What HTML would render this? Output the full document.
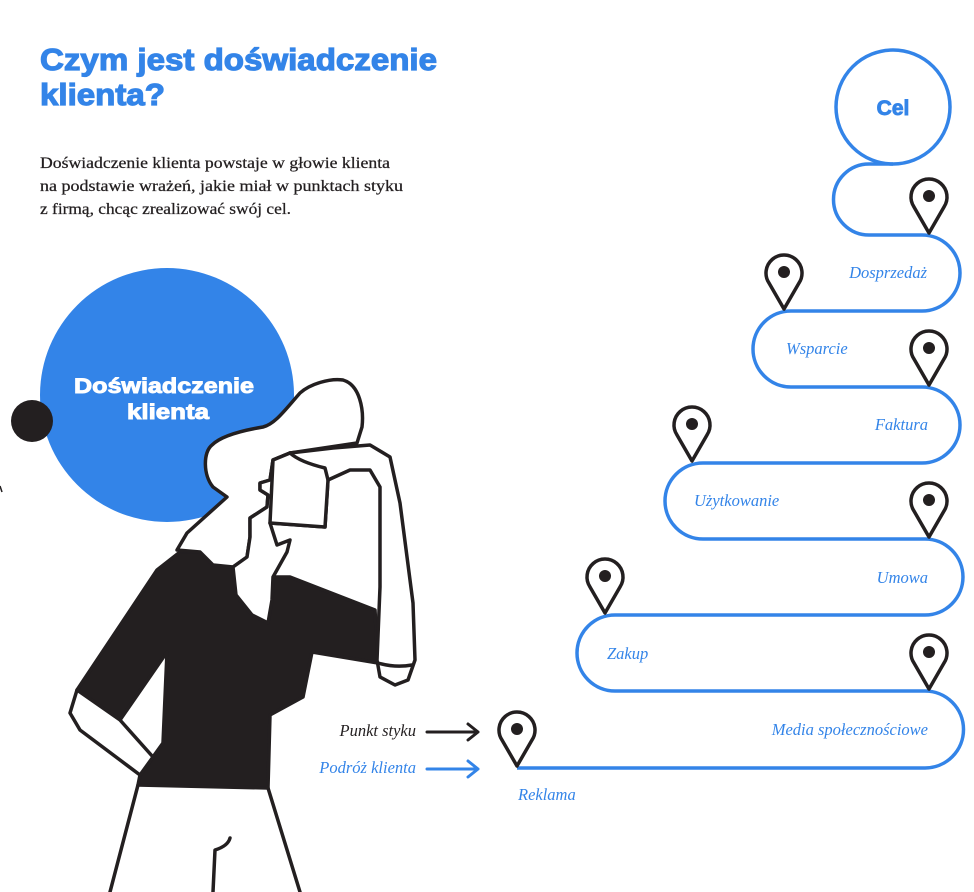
<!DOCTYPE html>
<html><head><meta charset="utf-8"><style>html,body{margin:0;padding:0;background:#fff;}svg{display:block}</style></head>
<body>
<svg width="974" height="892" viewBox="0 0 974 892" xmlns="http://www.w3.org/2000/svg">
<defs>
<g id="pin"><path d="M0,0 L-15,-26 A18,18 0 1 1 15,-26 Z" fill="#fff" stroke="#231f20" stroke-width="3.5" stroke-linejoin="round"/><circle cx="0" cy="-37" r="6" fill="#231f20"/></g>
</defs>
<!-- title -->
<g font-family="Liberation Sans, sans-serif" font-weight="bold" fill="#3384e8" stroke="#3384e8" stroke-width="1.2" font-size="31">
<text x="40" y="70" textLength="397" lengthAdjust="spacingAndGlyphs">Czym jest doświadczenie</text>
<text x="40" y="105" textLength="125" lengthAdjust="spacingAndGlyphs">klienta?</text>
</g>
<g font-family="Liberation Serif, serif" font-size="15.5" fill="#231f20" stroke="#231f20" stroke-width="0.25">
<text x="40" y="168" textLength="350" lengthAdjust="spacingAndGlyphs">Doświadczenie klienta powstaje w głowie klienta</text>
<text x="40" y="191" textLength="363" lengthAdjust="spacingAndGlyphs">na podstawie wrażeń, jakie miał w punktach styku</text>
<text x="40" y="214" textLength="251" lengthAdjust="spacingAndGlyphs">z firmą, chcąc zrealizować swój cel.</text>
</g>
<!-- big circle -->
<circle cx="167" cy="395" r="127" fill="#3384e8"/>
<circle cx="32" cy="421" r="21" fill="#231f20"/>
<path d="M0,486 L2,492" stroke="#231f20" stroke-width="1.5"/>
<g font-family="Liberation Sans, sans-serif" font-weight="bold" fill="#fff" stroke="#fff" stroke-width="0.9" font-size="21" text-anchor="middle">
<text x="164" y="393" textLength="180" lengthAdjust="spacingAndGlyphs">Doświadczenie</text>
<text x="168" y="419" textLength="82" lengthAdjust="spacingAndGlyphs">klienta</text>
</g>
<!-- woman -->
<g stroke="#231f20" stroke-width="3.5" stroke-linejoin="round" stroke-linecap="round">
<path d="M138,785 L110,892 M268,788 L300,892 M213,892 L215,850 Q228,846 230,838" fill="none"/>
<path d="M157,570 L180,552 L200,552 L213,565 L233,565 L250,600 L268,623 L273,577 L290,577 L375,610 L378,663 L312,652 L303,697 L270,715 L268,788 L138,785 L140,775 L163,743 L167,652 L120,720 L77,690 Z" fill="#231f20"/>
<path d="M77,690 L70,713 L80,730 L140,775 L153,757 L120,720 Z" fill="#fff"/>
<path d="M177,550 L187,533 L227,497 L213,487 C203,475 203,452 212,445 C222,435 245,430 263,427 C275,424 285,410 300,393 C310,384 330,378 343,380 C360,385 364,410 362,427 L357,443 L290,453 L273,460 L270,480 L260,483 L260,490 L268,495 L267,507 L250,518 L250,537 L247,557 L233,567 L213,565 L200,552 Z" fill="#fff"/>
<path d="M290,453 L273,460 L270,480 L260,483 L260,490 L268,495 L267,507 L250,518 L250,537 L247,557 L233,567 L236,595 L252,615 L268,623 L272,600 L273,577 L287,552 L290,540 L277,545 L270,523 L325,527 L328,480 Z" fill="#fff"/>
<path d="M290,453 L333,448 L370,445 L390,457 L400,503 L413,603 L415,660 L408,680 L395,685 L380,677 L377,660 L380,587 L380,487 L370,470 L350,470 L328,480 L325,527 L270,523 L273,460 Z" fill="#fff"/>
<path d="M290,453 Q300,462 325,468 L328,480" fill="none"/>
<path d="M378,663 Q395,668 412,665" fill="none"/>
</g>
<!-- journey path -->
<circle cx="893" cy="107" r="57" fill="none" stroke="#3384e8" stroke-width="3.5"/>
<text x="893" y="115" text-anchor="middle" font-family="Liberation Sans, sans-serif" font-weight="bold" font-size="21" fill="#3384e8" stroke="#3384e8" stroke-width="0.9">Cel</text>
<path d="M893,164 L869,164 A35.5,35.5 0 0 0 869,235 L922,235 A38,38 0 0 1 922,311 L791,311 A38,38 0 0 0 791,387 L922,387 A38,38 0 0 1 922,463 L703,463 A38,38 0 0 0 703,539 L925,539 A38,38 0 0 1 925,615 L615,615 A38,38 0 0 0 615,691 L925,691 A38.5,38.5 0 0 1 925,768 L517,768" fill="none" stroke="#3384e8" stroke-width="3.5"/>
<use href="#pin" x="929" y="233"/>
<use href="#pin" x="784" y="309"/>
<use href="#pin" x="929" y="385"/>
<use href="#pin" x="692" y="461"/>
<use href="#pin" x="929" y="537"/>
<use href="#pin" x="605" y="613"/>
<use href="#pin" x="929" y="689"/>
<use href="#pin" x="517" y="766"/>
<g font-family="Liberation Serif, serif" font-style="italic" font-size="16.5" fill="#3384e8">
<text x="927" y="278" text-anchor="end">Dosprzedaż</text>
<text x="786" y="354">Wsparcie</text>
<text x="928" y="430" text-anchor="end">Faktura</text>
<text x="694" y="506">Użytkowanie</text>
<text x="928" y="583" text-anchor="end">Umowa</text>
<text x="607" y="659">Zakup</text>
<text x="928" y="735" text-anchor="end">Media społecznościowe</text>
<text x="518" y="800">Reklama</text>
<text x="416" y="773" text-anchor="end">Podróż klienta</text>
</g>
<text x="416" y="736" text-anchor="end" font-family="Liberation Serif, serif" font-style="italic" font-size="16.5" fill="#231f20">Punkt styku</text>
<g fill="none" stroke-width="3" stroke-linecap="round" stroke-linejoin="round">
<path d="M427,732 L478,732 M468,724 L478,732 L468,740" stroke="#231f20"/>
<path d="M427,769 L478,769 M468,761 L478,769 L468,777" stroke="#3384e8"/>
</g>
</svg>
</body></html>
